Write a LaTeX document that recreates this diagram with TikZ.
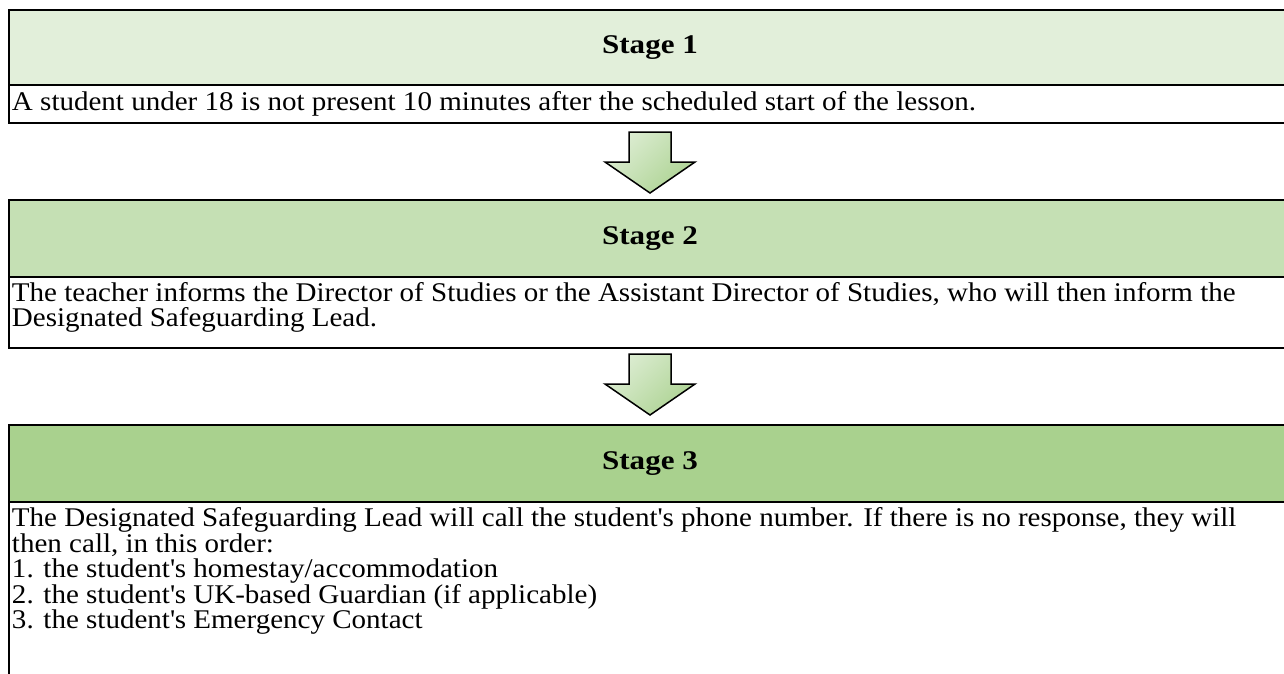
\documentclass[tikz,border=0pt]{standalone}
\usepackage{fontspec}
\setmainfont{Liberation Serif}[FakeStretch=1.075, BoldFeatures={FakeStretch=1.15}]
\usetikzlibrary{calc}
\definecolor{hdA}{HTML}{E2EFDA}
\definecolor{hdB}{HTML}{C5E0B4}
\definecolor{hdC}{HTML}{A9D18E}
\definecolor{arA}{HTML}{DDEDD3}
\definecolor{arB}{HTML}{ADD393}
\newcommand\ap{\textquotesingle}
\newcommand\bodysize{\fontsize{27}{25.5}\selectfont}
\begin{document}
\begin{tikzpicture}[x=1pt,y=-1pt,
  headcell/.style={draw=black, line width=1.8pt, rectangle, anchor=north west,
    minimum width=1282pt, inner sep=0pt, outer sep=0pt, font=\bfseries\bodysize},
  rowcell/.style={draw=black, line width=1.8pt, rectangle, anchor=north west,
    minimum width=1282pt, inner sep=0pt, outer sep=0pt},
  rowtext/.style={anchor=base west, inner sep=0pt, outer sep=0pt, font=\bodysize},
  blockarrow/.style={draw=black, line width=1.5pt, line join=miter,
    top color=arA, bottom color=arB, shading angle=45}]
\clip (0,0) rectangle (1284,673);
\fill[white] (0,0) rectangle (1284,673);
% Stage 1
\node[headcell, fill=hdA, minimum height=75pt] (h1) at (9,10) {Stage 1};
\node[rowcell, minimum height=38pt] (r1) at (h1.south west) {};
\node[rowtext] (t1a) at ($(r1.north west)+(3,25)$) {A student under 18 is not present 10 minutes after the scheduled start of the lesson.};
% arrow 1
\coordinate (a1) at ($(r1.south)+(0,9)$);
\shadedraw[blockarrow] (a1) ++(-21,0) -- ++(42,0) -- ++(0,30) -- ++(24,0) -- ++(-45,31) -- ++(-45,-31) -- ++(24,0) -- cycle;
% Stage 2
\node[headcell, fill=hdB, minimum height=77pt] (h2) at (9,200) {Stage 2};
\node[rowcell, minimum height=71pt] (r2) at (h2.south west) {};
\node[rowtext] (t2a) at ($(r2.north west)+(3,24)$) {The teacher informs the Director of Studies or the Assistant Director of Studies, who will then inform the};
\node[rowtext] (t2b) at ($(t2a.base west)+(0,25.5)$) {Designated Safeguarding Lead.};
% arrow 2
\coordinate (a2) at ($(r2.south)+(0,6)$);
\shadedraw[blockarrow] (a2) ++(-21,0) -- ++(42,0) -- ++(0,30) -- ++(24,0) -- ++(-45,31) -- ++(-45,-31) -- ++(24,0) -- cycle;
% Stage 3
\node[headcell, fill=hdC, minimum height=77pt] (h3) at (9,425) {Stage 3};
\node[rowcell, minimum height=200pt] (r3) at (h3.south west) {};
\node[rowtext] (t3a) at ($(r3.north west)+(3,24.5)$) {The Designated Safeguarding Lead will call the student\ap s phone number. If there is no response, they will};
\node[rowtext] (t3b) at ($(t3a.base west)+(0,25.5)$) {then call, in this order:};
\node[rowtext] (t3c) at ($(t3b.base west)+(0,25.5)$) {1. the student\ap s homestay/accommodation};
\node[rowtext] (t3d) at ($(t3c.base west)+(0,25.5)$) {2. the student\ap s UK-based Guardian (if applicable)};
\node[rowtext] (t3e) at ($(t3d.base west)+(0,25.5)$) {3. the student\ap s Emergency Contact};
\end{tikzpicture}
\end{document}
